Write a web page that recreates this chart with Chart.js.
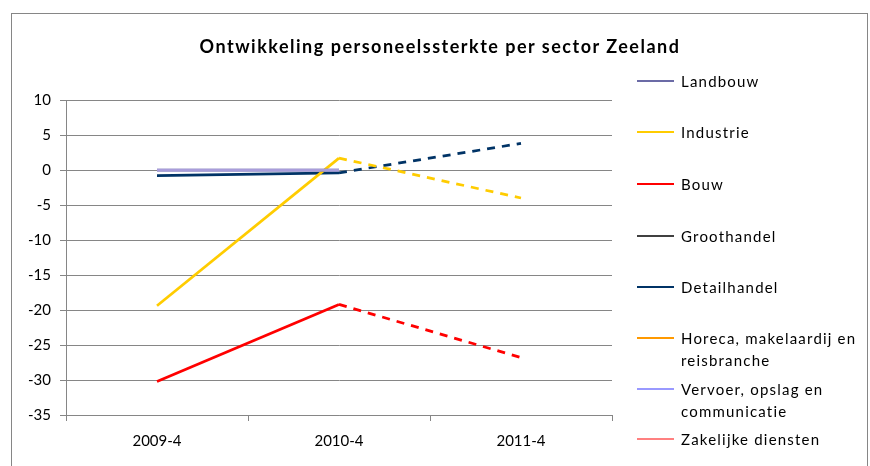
<!DOCTYPE html>
<html>
<head>
<meta charset="utf-8">
<script src="https://cdn.jsdelivr.net/npm/chart.js@4.4.1/dist/chart.umd.min.js"></script>
<style>
  body { margin: 0; background: #fff; font-family: Lato, "Open Sans", sans-serif; }
  #wrap { position: relative; width: 870px; height: 466px; overflow: hidden; }
  #kader { position: absolute; left: 11px; top: 13px; width: 857px; height: 470px; border: 1px solid #868686; box-sizing: border-box; }
  #titel { position: absolute; left: 0; width: 880px; top: 35px; text-align: center; font-weight: bold; font-size: 18px; letter-spacing: 1.5px; color: #000; }
  #legenda { position: absolute; left: 637px; top: 0; font-size: 15px; letter-spacing: 1.2px; color: #000; }
  .item { position: absolute; left: 0; width: 232px; line-height: 22px; }
  .item i { position: absolute; left: 0; top: 10px; width: 37px; height: 2px; }
  .item span { display: block; margin-left: 44px; }
  canvas { position: absolute; left: 0; top: 0; }
</style>
</head>
<body>
<div id="wrap">
  <div id="kader"></div>
  <canvas id="grafiek" width="870" height="466"></canvas>
  <div id="titel">Ontwikkeling personeelssterkte per sector Zeeland</div>
  <div id="legenda"></div>
</div>
<script>
// periodes en waarden (veranderingen in %)
var periodes = ['2009-4', '2010-4', '2011-4'];
var sectoren = ['Landbouw', 'Industrie', 'Bouw', 'Groothandel', 'Detailhandel',
  'Horeca, makelaardij en reisbranche', 'Vervoer, opslag en communicatie', 'Zakelijke diensten'];
var kleuren = ['#6b6ba6', '#ffcc00', '#ff0000', '#404040', '#003366', '#ff9900', '#9999ff', '#ff8080'];

var landbouw = [0, 0, null];
var industrie = [-19.4, 1.7, -4.0];
var bouw = [-30.2, -19.2, -26.8];
var groothandel = [null, null, null];
var detailhandel = [-0.8, -0.4, 3.8];
var horeca = [null, null, null];
var vervoer = [0, 0, null];
var zakelijk = [null, null, null];

var yTicks = { min: -35, max: 10, stap: 5 };

var reeksen = [landbouw, industrie, bouw, groothandel, detailhandel, horeca, vervoer, zakelijk];

// legenda posities (y van de lijn)
var legendaY = [70, 121, 173, 225, 276, 327, 378, 428];
var legenda = document.getElementById('legenda');
sectoren.forEach(function (naam, i) {
  var d = document.createElement('div');
  d.className = 'item';
  d.style.top = legendaY[i] + 'px';
  d.innerHTML = '<i style="background:' + kleuren[i] + '"></i><span>' + naam + '</span>';
  legenda.appendChild(d);
});

var datasets = reeksen.map(function (data, i) {
  return {
    label: sectoren[i],
    data: data,
    borderColor: kleuren[i],
    backgroundColor: kleuren[i],
    borderWidth: 2.75,
    pointRadius: 0,
    tension: 0,
    spanGaps: false,
    order: i === 6 ? 0 : 1,
    segment: {
      // prognose voor 2011-4 gestippeld
      borderDash: function (ctx) { return ctx.p1DataIndex === 2 ? [8, 7] : undefined; }
    }
  };
});
datasets[6].borderColor = '#a99ddb';

new Chart(document.getElementById('grafiek'), {
  type: 'line',
  data: { labels: periodes, datasets: datasets },
  options: {
    responsive: false,
    animation: false,
    layout: { padding: { left: 0, right: 258, top: 100, bottom: 0 } },
    plugins: { legend: { display: false }, title: { display: false }, tooltip: { enabled: false } },
    scales: {
      x: {
        offset: true,
        grid: { offset: true, drawOnChartArea: false, drawTicks: true, tickLength: 6, color: '#868686' },
        border: { color: '#868686' },
        ticks: { color: '#000', font: { family: 'Lato', size: 15 }, padding: 11, maxRotation: 0 },
        afterFit: function (s) { s.height = 51; }
      },
      y: {
        min: yTicks.min, max: yTicks.max,
        grid: { color: '#868686', tickLength: 6 },
        border: { color: '#868686' },
        ticks: { stepSize: yTicks.stap, color: '#000', font: { family: 'Lato', size: 15 }, padding: 9 },
        afterFit: function (s) { s.width = 66; }
      }
    }
  }
});
</script>
</body>
</html>
